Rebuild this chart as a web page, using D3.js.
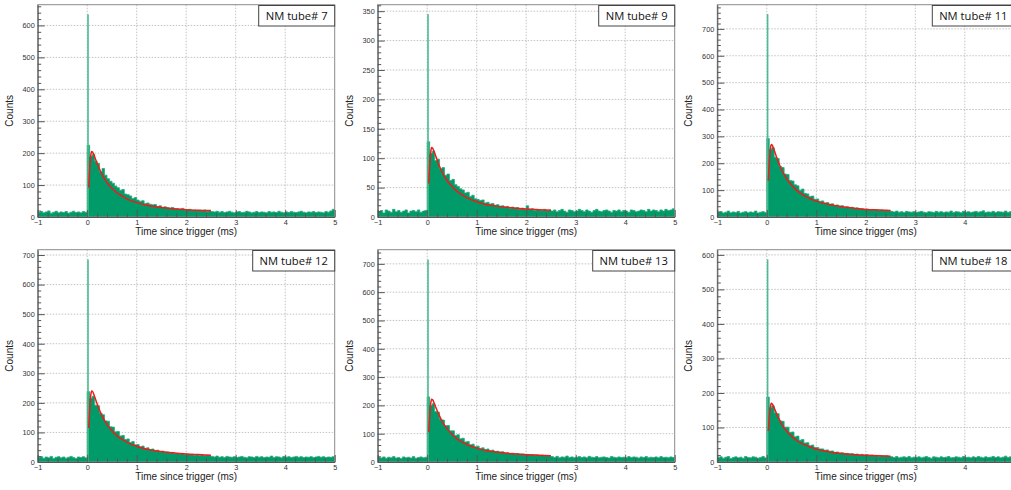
<!DOCTYPE html>
<html>
<head>
<meta charset="utf-8">
<script src="https://cdn.jsdelivr.net/npm/d3@7"></script>
<style>
  body { margin: 0; background: #fff; }
  svg { display: block; }
  .tick text { font-family: "Liberation Sans", Arial, sans-serif; font-size: 7.3px; fill: #333; }
</style>
</head>
<body>
<div id="chart"></div>
<script>
// histogram bins: -1 .. 5 ms, 0.05 ms wide (20 pre-trigger bins + 100 after)
const binLo = -1, binW = 0.05;

const tubes = [7, 9, 11, 12, 13, 18];
const yMax = [665, 361, 790, 718, 750, 615];
const yStep = [100, 50, 100, 100, 100, 100];
const spike = [635, 345, 755, 685, 715, 587]; // single narrow bin right at t=0

const hist7 = [
  14,17,13,16,19,12,15,18,13,16,14,17,12,15,18,14,16,13,17,15,
  225,190,196,175,168,142,152,131,120,112,106,97,92,84,86,72,70,66,58,61,
  53,49,51,42,44,40,38,39,33,35,30,32,29,27,30,25,26,24,27,22,
  23,24,21,22,20,21,19,22,18,19,17,16,18,15,17,14,16,18,15,13,
  16,17,14,15,18,16,13,15,17,14,16,15,13,17,15,16,14,18,15,13,
  16,14,17,15,14,16,18,15,13,16,15,17,14,16,15,13,17,15,19,24
];
const hist9 = [
  9,11,7,12,10,8,13,9,11,8,10,12,7,10,11,9,12,8,10,11,
  128,108,112,96,98,82,84,71,73,62,64,55,52,48,46,41,42,35,37,31,
  30,28,29,24,25,22,23,20,21,18,19,17,18,15,17,15,16,13,15,13,
  19,13,14,11,13,12,11,13,11,12,10,12,9,11,13,10,8,12,11,9,
  10,13,11,9,12,10,8,11,13,10,9,11,12,10,8,11,10,12,9,11,
  10,8,12,11,9,10,12,11,9,13,10,12,11,9,12,10,13,11,12,14
];
const hist11 = [
  17,20,15,18,22,16,19,17,21,15,18,20,16,19,17,22,15,18,20,17,
  292,252,258,222,218,188,184,160,158,136,134,120,116,100,104,88,86,76,78,66,
  67,58,60,52,54,47,49,43,45,40,42,36,38,34,36,32,34,30,31,29,
  30,27,28,26,27,25,26,24,25,23,21,19,22,18,20,17,21,19,18,20,
  17,19,21,18,16,20,19,17,21,18,20,17,19,18,22,17,20,19,16,21,
  18,20,17,19,21,18,20,23,17,19,18,21,17,20,19,18,22,17,20,19
];
const hist12 = [
  15,18,13,17,14,19,12,16,18,14,17,13,16,19,15,12,17,15,18,14,
  238,216,222,192,190,165,160,139,138,119,118,102,103,88,90,76,78,66,69,58,
  59,51,54,46,48,42,44,38,40,35,37,33,34,31,32,29,30,27,29,26,
  27,25,26,23,25,22,24,21,23,21,19,17,20,16,18,15,19,17,16,18,
  15,17,19,16,14,18,17,15,19,16,18,15,17,16,20,15,18,17,14,19,
  16,18,15,17,19,16,18,15,17,16,18,15,17,19,16,18,15,17,16,18
];
const hist13 = [
  16,14,18,13,17,15,19,14,16,12,18,15,17,14,19,13,16,18,15,17,
  230,200,206,178,176,151,148,128,129,110,110,94,96,82,84,71,72,61,63,54,
  56,48,50,44,46,40,42,37,38,34,36,32,33,30,31,28,30,27,28,26,
  27,25,26,24,25,23,24,22,23,21,19,16,20,15,18,17,21,16,18,15,
  17,19,16,18,15,20,17,16,19,15,17,18,16,14,19,17,15,18,16,17,
  15,19,16,18,17,14,18,16,19,15,17,16,18,15,19,16,17,15,18,16
];
const hist18 = [
  12,15,11,14,16,10,13,15,12,14,11,16,13,12,15,14,11,13,16,12,
  188,158,163,142,140,119,118,101,101,86,87,73,75,63,65,55,56,47,49,42,
  42,38,38,34,35,31,32,28,29,26,27,25,25,23,24,22,23,20,22,20,
  21,19,20,18,19,17,18,17,18,16,15,13,16,12,14,15,13,16,12,14,
  13,15,12,14,16,13,11,15,14,12,15,13,14,16,12,13,15,14,12,16,
  13,14,12,15,13,16,14,12,15,13,14,16,13,15,12,14,17,13,15,14
];
const hists = [hist7, hist9, hist11, hist12, hist13, hist18];

// red fit curves, sampled at fitT
const fitT = [0.03,0.05,0.07,0.09,0.11,0.15,0.2,0.25,0.3,0.4,0.5,0.6,0.7,0.8,1.0,1.2,1.4,1.6,1.8,2.0,2.25,2.5];
const fit7  = [92,150,190,205,203,189,168,150,133,108,90,76,66,57,45,37,32,28,25,23,21,20];
const fit9  = [57,88,109,118,117,109,97,86,77,62,52,44,38,33,26,21,18.5,16.5,15,13.6,12.5,11.5];
const fit11 = [135,200,250,270,267,248,221,197,175,143,118,100,86,75,59,49,42,36,32,28,26,24];
const fit12 = [115,175,222,240,238,221,197,175,156,127,106,89,77,67,53,43,37,33,30,27,25,23];
const fit13 = [105,162,205,222,220,204,182,162,144,118,98,82,71,62,49,40,35,31,28,26,24,22];
const fit18 = [90,128,158,170,168,156,139,124,110,90,75,63,54,48,37,31,26,23.5,21,19.5,18,17];
const fits = [fit7, fit9, fit11, fit12, fit13, fit18];

const W = 1011, H = 490;
const colLeft = [37.7, 377.7, 717.3];
const rowTop = [4.7, 249.7];
const rowBottom = [217, 462];
const frameW = 297;

const fillGreen = "#009b68";
const edgeGreen = "#2aa97a";
const font = "'Liberation Sans', Arial, sans-serif";

const svg = d3.select("#chart").append("svg")
  .attr("width", W)
  .attr("height", H);

svg.append("rect").attr("width", W).attr("height", H).attr("fill", "#fff");

tubes.forEach(function (tube, k) {
  const L = colLeft[k % 3];
  const T = rowTop[Math.floor(k / 3)];
  const B = rowBottom[Math.floor(k / 3)];

  const x = d3.scaleLinear().domain([-1, 5]).range([L, L + frameW]);
  const y = d3.scaleLinear().domain([0, yMax[k]]).range([B, T]);

  const g = svg.append("g");

  g.append("clipPath").attr("id", "clip" + k)
    .append("rect")
    .attr("x", L).attr("y", T)
    .attr("width", frameW).attr("height", B - T);

  const majorY = d3.range(0, yMax[k] + 0.1, yStep[k]);
  const minorY = d3.range(0, yMax[k], yStep[k] / 5).filter(v => v % yStep[k] !== 0);
  // labels past the window edge are left out (the right column is cut off)
  const majorX = d3.range(-1, 6, 1).filter(v => x(v) < W - 3);
  const minorX = d3.range(-1, 5.01, 0.2).filter(v => Math.abs(v - Math.round(v)) > 1e-6);

  // dotted grid
  const grid = g.append("g")
    .attr("stroke", "#b4b4b4")
    .attr("stroke-width", 0.8)
    .attr("stroke-dasharray", "1.5,1.5");
  grid.selectAll(".gx").data(d3.range(0, 5, 1)).join("line")
    .attr("x1", d => x(d)).attr("x2", d => x(d))
    .attr("y1", T).attr("y2", B);
  grid.selectAll(".gy").data(majorY.slice(1)).join("line")
    .attr("x1", L).attr("x2", L + frameW)
    .attr("y1", d => y(d)).attr("y2", d => y(d));

  // histogram
  const counts = hists[k];
  const pts = counts.map((v, i) => [binLo + i * binW, v]);
  pts.push([5, counts[counts.length - 1]]);

  const plot = g.append("g").attr("clip-path", "url(#clip" + k + ")");

  plot.append("path")
    .datum(pts)
    .attr("fill", fillGreen)
    .attr("d", d3.area()
      .curve(d3.curveStepAfter)
      .x(d => x(d[0]))
      .y0(y(0))
      .y1(d => y(d[1])));

  plot.append("path")
    .datum(pts)
    .attr("fill", "none")
    .attr("stroke", edgeGreen)
    .attr("stroke-width", 0.8)
    .attr("d", d3.line()
      .curve(d3.curveStepAfter)
      .x(d => x(d[0]))
      .y(d => y(d[1])));

  // the narrow spike at t = 0
  plot.append("rect")
    .attr("x", x(0))
    .attr("width", 1.6)
    .attr("y", y(spike[k]))
    .attr("height", y(0) - y(spike[k]))
    .attr("fill", "#4cbb90");

  // fit
  plot.append("path")
    .datum(fitT.map((t, i) => [t, fits[k][i]]))
    .attr("fill", "none")
    .attr("stroke", "#ee1c1c")
    .attr("stroke-width", 1.5)
    .attr("d", d3.line()
      .curve(d3.curveMonotoneX)
      .x(d => x(d[0]))
      .y(d => y(d[1])));

  // frame
  g.append("rect")
    .attr("x", L).attr("y", T)
    .attr("width", frameW).attr("height", B - T)
    .attr("fill", "none")
    .attr("stroke", "#8a8a8a")
    .attr("stroke-width", 1);

  // axes, ticks pointing inside the frame
  g.append("g")
    .attr("transform", `translate(${L},0)`)
    .call(d3.axisLeft(y).tickValues(majorY).tickFormat(d3.format("d"))
      .tickSizeInner(-7).tickSizeOuter(0).tickPadding(3));
  g.append("g")
    .attr("transform", `translate(${L},0)`)
    .call(d3.axisLeft(y).tickValues(minorY).tickSizeInner(-3.5).tickSizeOuter(0).tickFormat(""))
    .select(".domain").remove();

  g.append("g")
    .attr("transform", `translate(0,${B})`)
    .call(d3.axisBottom(x).tickValues(majorX).tickFormat(d3.format("d"))
      .tickSizeInner(-7).tickSizeOuter(0).tickPadding(3));
  g.append("g")
    .attr("transform", `translate(0,${B})`)
    .call(d3.axisBottom(x).tickValues(minorX).tickSizeInner(-3.5).tickSizeOuter(0).tickFormat(""))
    .select(".domain").remove();

  g.selectAll(".domain").attr("stroke", "#555");
  g.selectAll(".tick line").attr("stroke", "#555");

  // axis titles
  g.append("text")
    .attr("x", (x(-1) + x(5)) / 2)
    .attr("y", B + 18)
    .attr("text-anchor", "middle")
    .style("font-family", font)
    .style("font-size", "10px")
    .attr("fill", "#222")
    .text("Time since trigger (ms)");

  g.append("text")
    .attr("transform", `translate(${L - 25},${(T + B) / 2}) rotate(-90)`)
    .attr("text-anchor", "middle")
    .style("font-family", font)
    .style("font-size", "10px")
    .attr("fill", "#222")
    .text("Counts");

  // legend box
  const label = "NM tube# " + tube;
  const boxW = label.length > 10 ? 82 : 76;
  const box = g.append("g");
  box.append("rect")
    .attr("x", L + frameW - boxW)
    .attr("y", T + 0.8)
    .attr("width", boxW)
    .attr("height", 20.5)
    .attr("fill", "#fff")
    .attr("stroke", "#444")
    .attr("stroke-width", 1);
  box.append("text")
    .attr("x", L + frameW - boxW / 2)
    .attr("y", T + 15.3)
    .attr("text-anchor", "middle")
    .style("font-family", "'Open Sans', sans-serif")
    .style("font-size", "11.2px")
    .attr("fill", "#111")
    .text(label);
});
</script>
</body>
</html>
